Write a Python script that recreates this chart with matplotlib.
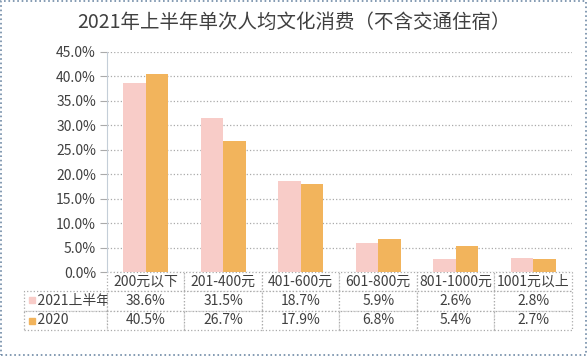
import numpy as np
import matplotlib.pyplot as plt
from matplotlib.patches import Rectangle
from matplotlib.table import Table

plt.rcParams['font.family'] = ['Noto Sans CJK SC', 'DejaVu Sans']

# 数据
categories = ['200元以下', '201-400元', '401-600元', '601-800元', '801-1000元', '1001元以上']
series_names = ['2021上半年', '2020']
h2021 = [38.6, 31.5, 18.7, 5.9, 2.6, 2.8]
y2020 = [40.5, 26.7, 17.9, 6.8, 5.4, 2.7]
yticks = [0, 5, 10, 15, 20, 25, 30, 35, 40, 45]

c_pink = '#F8CCC8'
c_orange = '#F2B45C'
txt = '#404040'

fig = plt.figure(figsize=(5.88, 3.56), dpi=100)
ax = fig.add_axes([107/588, 1 - 272/356, 465/588, 220/356])

x = np.arange(len(categories))
w = 0.29
ax.bar(x - w/2, h2021, w, color=c_pink)
ax.bar(x + w/2, y2020, w, color=c_orange)

ax.set_xlim(-0.5, len(categories) - 0.5)
ax.set_ylim(0, 45)
ax.set_yticks(yticks)
ax.set_yticklabels(['%.1f%%' % v for v in yticks], fontsize=10, color=txt)
ax.set_xticks([])
ax.yaxis.grid(True, linestyle=':', color='#aaaaaa', linewidth=0.9)
ax.set_axisbelow(True)
for s in ['top', 'right', 'bottom']:
    ax.spines[s].set_visible(False)
ax.spines['left'].set_color('#c4ced8')
ax.tick_params(axis='y', length=5, color='#aaaaaa', pad=3)

# 表格 (bbox 只管数据格, 行标题列挂在左边)
cell_text = [['%.1f%%' % v for v in h2021], ['%.1f%%' % v for v in y2020]]
tb = Table(ax, bbox=[0, -58/220, 1, 58/220])
lab_w = 83/465
col_w = 1/6
row_h = 1/3
for j, cat in enumerate(categories):
    tb.add_cell(0, j, col_w, row_h, text=cat, loc='center')
for i, name in enumerate(series_names):
    tb.add_cell(i + 1, -1, lab_w, row_h, text='    ' + name, loc='left')
    for j in range(len(categories)):
        tb.add_cell(i + 1, j, col_w, row_h, text=cell_text[i][j], loc='center')
tb.auto_set_font_size(False)
for (r, c), cell in tb.get_celld().items():
    cell.set_edgecolor('#aaaaaa')
    cell.set_linestyle(':')
    cell.set_linewidth(0.9)
    cell.get_text().set_fontsize(10)
    cell.get_text().set_color(txt)
    if c == -1:
        cell.PAD = 0.01
ax.add_table(tb)

# 图例色块
fig.patches.append(Rectangle((29/588, 1 - 303/356), 6/588, 6/356,
                             transform=fig.transFigure, color=c_pink))
fig.patches.append(Rectangle((29/588, 1 - 324/356), 6/588, 6/356,
                             transform=fig.transFigure, color=c_orange))

fig.text(0.5, 1 - 22/356, '2021年上半年单次人均文化消费（不含交通住宿）',
         ha='center', va='center', fontsize=14, color=txt)

# 外框
fig.patches.append(Rectangle((0.002, 0.003), 0.995, 0.994, transform=fig.transFigure,
                             fill=False, edgecolor='#6f8aa6', linestyle=':', linewidth=1.2))

fig.savefig('out.png', dpi=100)
